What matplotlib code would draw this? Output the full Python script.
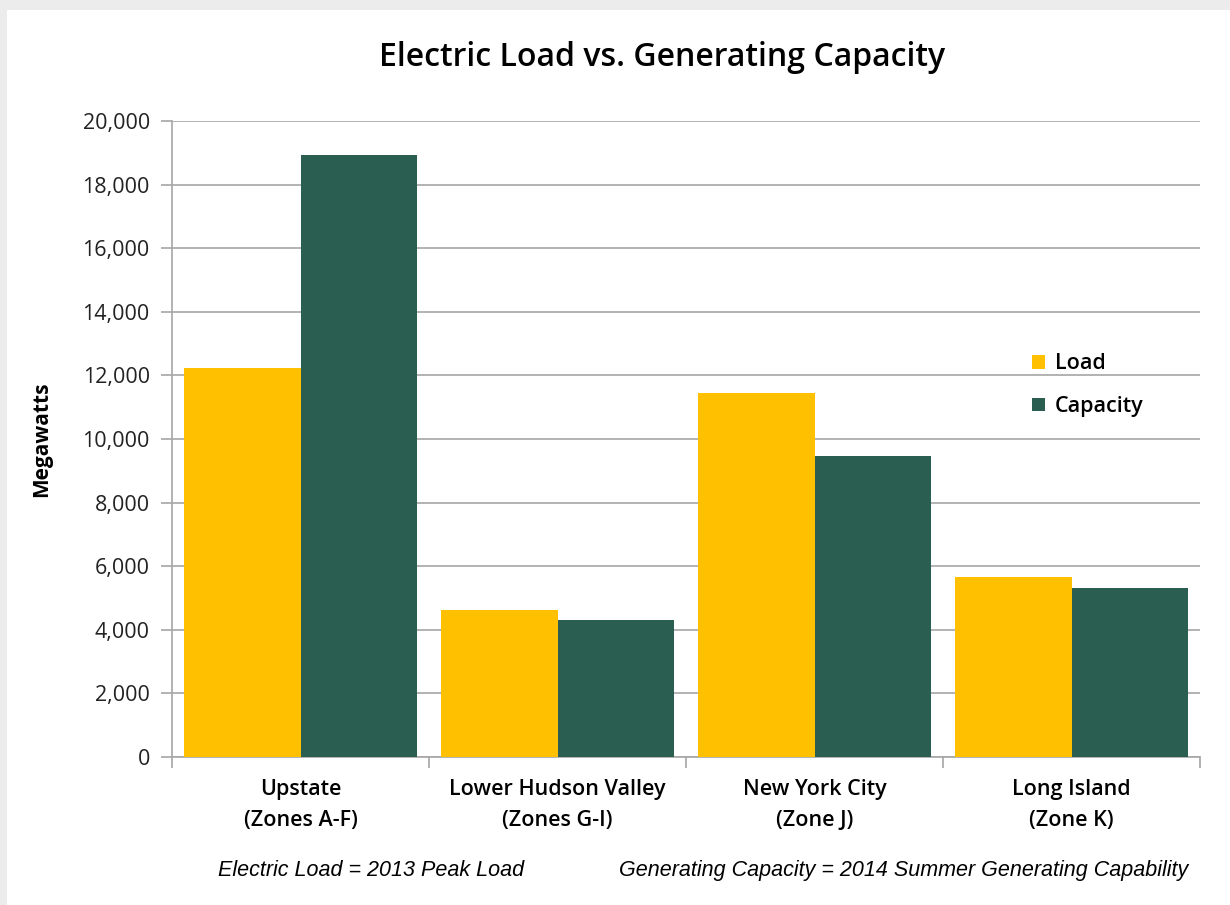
import numpy as np
import matplotlib.pyplot as plt
from matplotlib.ticker import FuncFormatter
from matplotlib.patches import Rectangle

regions = ["Upstate\n(Zones A-F)", "Lower Hudson Valley\n(Zones G-I)",
           "New York City\n(Zone J)", "Long Island\n(Zone K)"]
load = [12240, 4620, 11450, 5660]
capacity = [18930, 4310, 9470, 5310]

LOAD_COLOR = "#ffc000"
CAP_COLOR = "#295e50"
GRID = "#a6a6a6"

plt.rcParams["font.family"] = ["Open Sans", "DejaVu Sans"]

fig = plt.figure(figsize=(12.3, 9.05), dpi=100)
fig.patch.set_facecolor("#ececec")
# white page with a thin grey edge at the top and left, like the screenshot
fig.add_artist(Rectangle((7 / 1230, 0), 1, 1 - 10 / 905, transform=fig.transFigure,
                         facecolor="white", edgecolor="none", zorder=0))

ax = fig.add_axes([172 / 1230, 1 - 757 / 905, 1028 / 1230, 636 / 905])
ax.set_facecolor("none")

x = np.arange(len(regions))
w = 0.455
ax.bar(x - w / 2, load, w, color=LOAD_COLOR, label="Load", zorder=3)
ax.bar(x + w / 2, capacity, w, color=CAP_COLOR, label="Capacity", zorder=3)

ax.set_xlim(-0.5, len(regions) - 0.5)
ax.set_ylim(0, 20000)
ax.set_yticks(range(0, 20001, 2000))
ax.yaxis.set_major_formatter(FuncFormatter(lambda v, p: "{:,.0f}".format(v)))
ax.grid(axis="y", color=GRID, linewidth=1.2, zorder=0)

ax.set_xticks(x)
ax.set_xticklabels(regions, fontsize=15.5, linespacing=1.6, fontweight="semibold")
ax.set_xticks(np.arange(-0.5, len(regions), 1), minor=True)
ax.tick_params(axis="x", which="major", length=0, pad=16)
ax.tick_params(axis="x", which="minor", length=8, color=GRID, width=1.2)
ax.tick_params(axis="y", length=8, color=GRID, width=1.2, labelsize=15.5,
               labelcolor="#222222", pad=8)

for s in ["top", "right"]:
    ax.spines[s].set_visible(False)
for s in ["left", "bottom"]:
    ax.spines[s].set_color(GRID)
    ax.spines[s].set_linewidth(1.2)

ax.set_ylabel("Megawatts", fontsize=15, fontweight="bold", labelpad=22)
fig.text(0.538, 1 - 58 / 905, "Electric Load vs. Generating Capacity",
         ha="center", va="center", fontsize=23, fontweight="semibold")

leg = ax.legend(loc="upper left", bbox_to_anchor=(0.818, 0.665), frameon=False,
                prop={"size": 15.5, "weight": "semibold"}, handlelength=0.6,
                handleheight=0.6, handletextpad=0.45, labelspacing=1.0)

foot = ["Liberation Sans Narrow", "Liberation Sans", "DejaVu Sans"]
fig.text(218 / 1230, 1 - 870 / 905, "Electric Load = 2013 Peak Load",
         ha="left", va="center", fontsize=15.5, style="italic", family=foot)
fig.text(1188 / 1230, 1 - 870 / 905,
         "Generating Capacity = 2014 Summer Generating Capability",
         ha="right", va="center", fontsize=15.5, style="italic", family=foot)

plt.savefig("out.png", dpi=100, facecolor=fig.get_facecolor())
